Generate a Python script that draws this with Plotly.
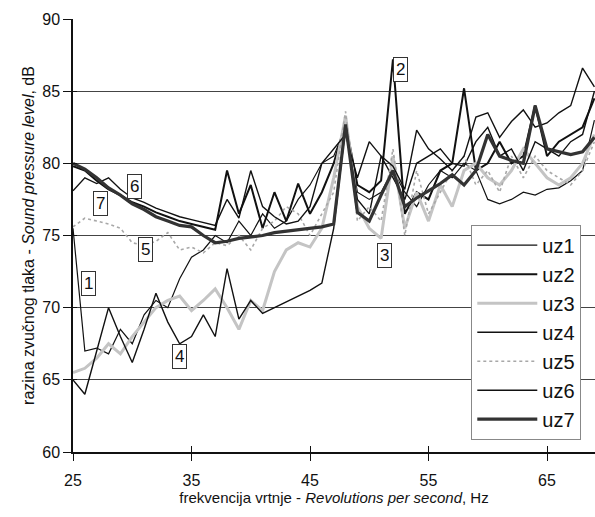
import plotly.graph_objects as go

freq = list(range(25, 70))

uz1 = [75.5, 67.0, 67.2, 66.8, 68.5, 67.5, 69.5, 70.5, 70.0, 72.0, 73.5, 74.0, 75.0, 74.5, 76.0,
       75.0, 76.5, 75.5, 76.0, 77.5, 78.5, 80.0, 80.5, 82.5, 78.0, 77.5, 78.0, 79.5, 78.0, 77.0,
       78.5, 79.5, 79.0, 80.0, 79.5, 77.5, 77.2, 77.5, 78.0, 77.8, 78.2, 78.3, 78.8, 79.5, 83.0]
uz2 = [79.8, 79.5, 78.8, 78.2, 77.8, 77.3, 77.0, 76.6, 76.3, 76.0, 75.8, 75.6, 75.4, 79.5, 76.5,
       78.5, 75.5, 78.0, 76.0, 78.6, 76.5, 78.0, 80.0, 82.8, 78.5, 78.0, 78.8, 87.2, 76.5, 78.0,
       77.5, 79.5, 80.0, 85.2, 79.5, 80.0, 81.5, 80.0, 80.5, 84.0, 80.5, 81.5, 82.0, 82.5, 84.5]
uz3 = [65.5, 65.8, 66.5, 67.5, 66.8, 68.0, 69.0, 70.0, 70.5, 70.8, 69.8, 70.5, 71.3, 70.0, 68.5,
       70.5, 69.8, 72.5, 74.0, 74.5, 74.2, 75.5, 79.0, 83.3, 77.0, 75.5, 74.8, 80.5, 75.5, 78.0,
       76.0, 78.5, 77.0, 79.5, 80.0, 79.0, 78.5, 79.5, 81.0, 80.0, 79.0, 78.5, 79.0, 80.0, 82.0]
uz4 = [65.0, 64.0, 67.0, 70.0, 68.0, 66.2, 68.5, 71.0, 69.0, 67.5, 68.0, 69.5, 68.0, 72.7, 69.2,
       70.5, 69.6, 70.0, 70.4, 70.8, 71.2, 71.7, 75.5, 82.5, 77.5, 76.5, 80.5, 79.0, 77.5, 80.0,
       80.5, 81.0, 80.0, 79.8, 81.5, 82.5, 80.5, 81.0, 79.5, 81.5, 81.0, 80.5, 81.5, 82.0, 85.0]
uz5 = [75.6, 76.2, 76.0, 75.8, 75.5, 74.5, 74.3, 74.6, 75.2, 74.0, 74.2, 73.8, 74.5, 74.3, 75.0,
       74.0, 75.5, 76.0, 77.0, 76.5, 75.0, 76.5, 78.0, 83.6, 76.0, 77.0, 76.0, 81.0, 75.0, 79.5,
       76.5, 78.0, 79.5, 80.5, 78.5, 79.5, 78.0, 80.5, 79.0, 80.5, 79.5, 79.0, 78.5, 79.5, 81.5]
uz6 = [78.1, 79.0, 78.6, 79.0, 78.2, 77.6, 77.3, 76.9, 76.6, 76.3, 76.1, 75.9, 75.7, 77.5, 76.2,
       79.5, 77.0, 76.3, 75.8, 76.0, 77.0, 80.0, 81.0, 82.0, 79.0, 81.5, 80.5, 79.8, 78.2, 82.3,
       81.0, 80.3, 79.5, 80.5, 83.2, 83.5, 81.8, 82.9, 83.7, 82.5, 82.8, 83.5, 84.0, 86.6, 85.3]
uz7 = [80.0, 79.6, 79.0, 78.3, 77.8, 77.2, 76.8, 76.3, 76.0, 75.7, 75.6, 75.0, 74.5, 74.6, 74.8,
       74.9, 75.0, 75.2, 75.3, 75.4, 75.5, 75.6, 75.8, 82.7, 76.6, 76.0, 77.8, 79.5, 77.0, 77.6,
       78.1, 78.6, 79.2, 78.5, 79.5, 82.0, 80.5, 80.2, 80.0, 84.0, 81.0, 80.8, 80.6, 80.8, 81.8]

series = [("uz1", uz1), ("uz2", uz2), ("uz3", uz3), ("uz4", uz4),
          ("uz5", uz5), ("uz6", uz6), ("uz7", uz7)]
styles = {
    "uz1": dict(color="#111111", width=1.2),
    "uz2": dict(color="#111111", width=2.0),
    "uz3": dict(color="#c4c4c4", width=3.0),
    "uz4": dict(color="#111111", width=1.4),
    "uz5": dict(color="#a8a8a8", width=1.6, dash="dot"),
    "uz6": dict(color="#111111", width=1.4),
    "uz7": dict(color="#333333", width=3.2),
}

label_text = ["1", "2", "3", "4", "5", "6", "7"]
label_x = [26.3, 52.6, 51.3, 34.0, 31.1, 30.2, 27.3]
label_y = [71.7, 86.5, 73.6, 66.6, 74.0, 78.4, 77.2]

xticks = [25, 35, 45, 55, 65]
yticks = [60, 65, 70, 75, 80, 85, 90]

FONT = "Liberation Sans, Arial"

fig = go.Figure()
for name, vals in series:
    fig.add_trace(go.Scatter(x=freq, y=vals, mode="lines", name=name,
                             line=styles[name]))

# invisible trace for the overlay axes (inside tick marks)
fig.add_trace(go.Scatter(x=[25], y=[60], xaxis="x2", yaxis="y2", mode="markers",
                         marker=dict(opacity=0), showlegend=False, hoverinfo="skip"))

for t, lx, ly in zip(label_text, label_x, label_y):
    fig.add_annotation(x=lx, y=ly, text=t, showarrow=False,
                       font=dict(family=FONT, size=17, color="#111"),
                       bgcolor="white", bordercolor="#333", borderwidth=1,
                       borderpad=2)

fig.update_layout(
    width=595, height=517,
    margin=dict(l=73, r=0, t=19, b=65),
    paper_bgcolor="white", plot_bgcolor="white",
    font=dict(family=FONT, size=16, color="#111"),
    xaxis=dict(range=[25, 69.05], tickvals=xticks, showgrid=False, zeroline=False,
               showline=True, linecolor="#111", linewidth=1.5,
               ticks="outside", ticklen=7, tickcolor="#111",
               tickfont=dict(size=16), ticklabelstandoff=6,
               title=dict(text="frekvencija vrtnje - <i>Revolutions per second</i>, Hz",
                          font=dict(size=15), standoff=4)),
    yaxis=dict(range=[60, 90], tickvals=yticks, showgrid=True, gridcolor="#444",
               gridwidth=1, zeroline=False, showline=True, linecolor="#111",
               linewidth=1.5, ticks="outside", ticklen=8, tickcolor="#111",
               tickfont=dict(size=16),
               title=dict(text="razina zvučnog tlaka - <i>Sound pressure level</i>, dB",
                          font=dict(size=16), standoff=4)),
    xaxis2=dict(range=[25, 69.05], overlaying="x", tickvals=xticks, showticklabels=False,
                showgrid=False, zeroline=False, showline=False, ticks="inside",
                ticklen=6, tickcolor="#111"),
    yaxis2=dict(range=[60, 90], overlaying="y", tickvals=yticks, showticklabels=False,
                showgrid=False, zeroline=False, showline=False, ticks="inside",
                ticklen=4, tickcolor="#111"),
    legend=dict(x=0.763, y=0.525, xanchor="left", yanchor="top",
                bgcolor="white", bordercolor="#888", borderwidth=1,
                font=dict(size=20), tracegroupgap=0, itemwidth=60),
    showlegend=True,
)

fig.write_html("out.html")
